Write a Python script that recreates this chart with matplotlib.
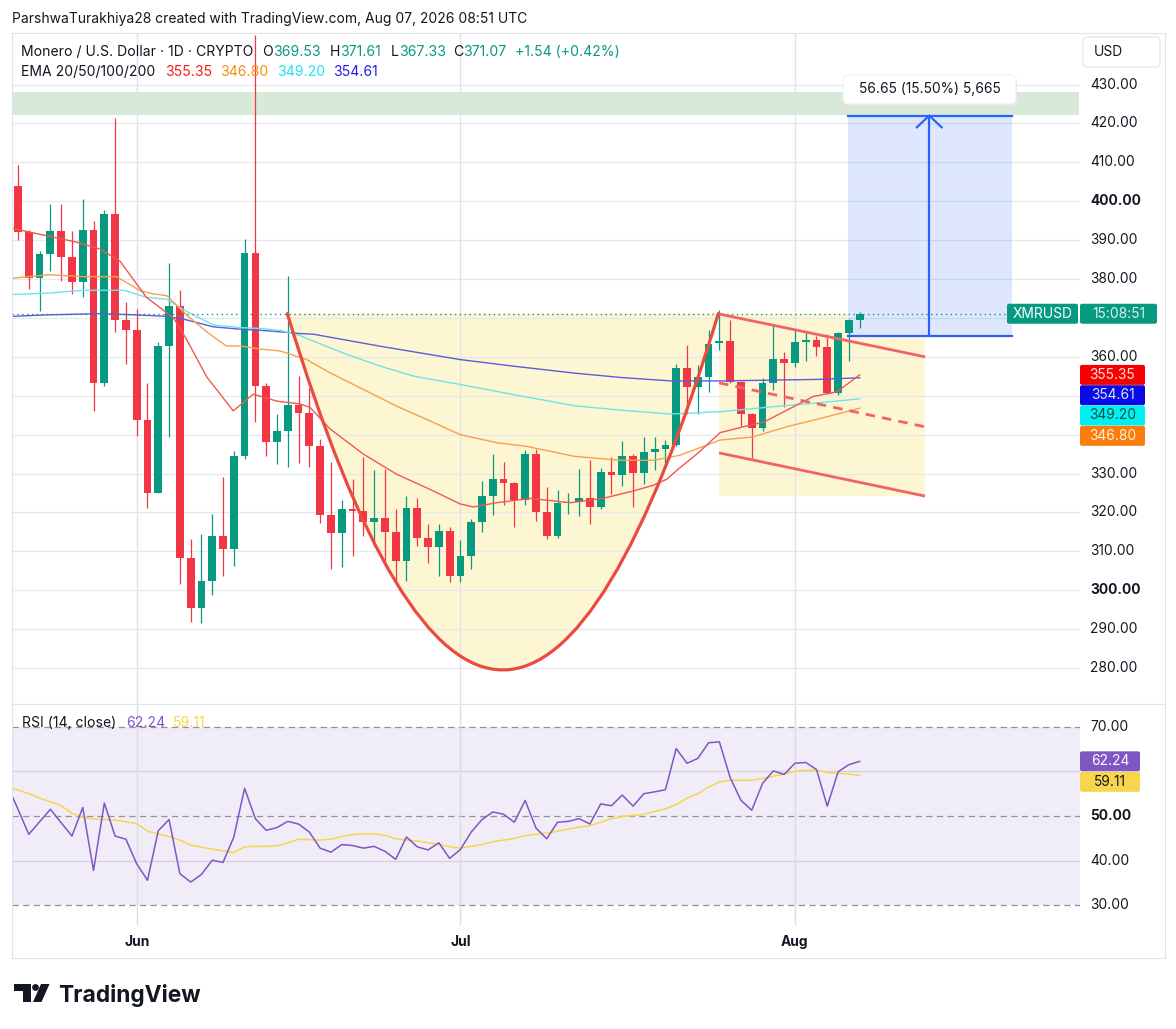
import matplotlib
matplotlib.use("Agg")
import matplotlib.pyplot as plt
import matplotlib.transforms as mtrans
from matplotlib.patches import Rectangle, FancyBboxPatch, PathPatch, Polygon, Circle
from matplotlib.path import Path
from matplotlib.lines import Line2D

plt.rcParams['font.family'] = ['Inter', 'DejaVu Sans']

# ---------------- data ----------------
# daily candles, index 0 = May 21
opens = [403.9, 392.2, 380.2, 386.4, 392.4, 385.6, 379.3, 392.6, 353.2, 396.6,
         369.5, 367.0, 343.7, 325.1, 362.8, 373.1, 308.2, 295.5, 302.4, 314.0,
         310.6, 334.4, 386.8, 352.4, 338.0, 340.8, 347.5, 345.6, 337.2, 319.3,
         314.6, 320.9, 320.3, 317.5, 318.6, 315.0, 307.5, 321.1, 313.4, 311.1,
         315.2, 303.6, 308.9, 317.6, 324.2, 328.5, 327.6, 323.3, 335.1, 320.2,
         313.9, 322.3, 322.8, 323.8, 321.4, 330.4, 329.6, 334.6, 330.2, 335.6,
         336.3, 337.3, 357.0, 352.3, 354.7, 363.6, 364.1, 353.6, 345.4, 341.6,
         353.2, 359.4, 358.3, 363.7, 364.3, 362.4, 350.6, 366.1, 369.53]
highs = [409.2, 392.6, 387.1, 399.3, 399.3, 392.4, 400.6, 394.8, 397.7, 421.3,
         374.2, 372.4, 353.2, 363.7, 384.2, 377.2, 313.1, 314.4, 319.5, 329.2,
         335.9, 390.2, 442.7, 353.2, 345.2, 380.8, 355.0, 352.0, 338.9, 332.9,
         323.3, 328.6, 334.2, 330.9, 331.2, 320.8, 324.2, 323.8, 317.1, 317.1,
         316.2, 313.0, 318.4, 328.0, 335.1, 332.9, 327.8, 336.0, 336.3, 326.6,
         325.7, 325.0, 331.1, 333.6, 331.5, 334.3, 338.3, 334.9, 339.4, 339.4,
         338.7, 358.1, 363.0, 357.9, 367.0, 372.0, 369.5, 353.8, 345.6, 354.5,
         367.8, 361.2, 367.1, 366.4, 365.4, 365.8, 366.5, 369.7, 371.61]
lows = [390.0, 377.5, 371.9, 382.0, 379.5, 376.2, 375.5, 346.0, 352.4, 366.4,
        358.1, 339.7, 321.1, 325.1, 339.3, 301.7, 291.9, 291.7, 298.8, 303.7,
        306.1, 333.7, 343.3, 334.6, 332.4, 331.7, 332.7, 331.7, 317.3, 305.5,
        306.0, 308.8, 313.9, 311.3, 307.2, 301.9, 302.3, 311.3, 307.0, 303.6,
        302.1, 302.1, 305.5, 314.9, 319.3, 321.8, 316.3, 321.9, 317.8, 313.2,
        313.5, 319.5, 319.0, 317.0, 321.0, 324.7, 326.8, 321.4, 327.4, 330.9,
        331.9, 337.0, 345.4, 345.4, 351.0, 361.8, 353.3, 342.1, 334.0, 340.8,
        351.5, 347.2, 357.5, 358.8, 360.1, 350.4, 350.2, 358.9, 367.33]
closes = [392.2, 380.2, 386.4, 392.4, 385.6, 379.3, 392.6, 353.2, 396.6, 369.5,
          367.0, 343.7, 325.1, 362.8, 373.1, 308.2, 295.5, 302.4, 314.0, 310.6,
          334.4, 386.8, 352.4, 338.0, 340.8, 347.5, 345.6, 337.2, 319.3, 314.6,
          320.9, 320.3, 317.5, 318.6, 315.0, 307.5, 321.1, 313.4, 311.1, 315.2,
          303.6, 308.9, 317.6, 324.2, 328.5, 327.6, 323.3, 335.1, 320.2, 313.9,
          322.3, 322.8, 323.8, 321.4, 330.4, 329.6, 334.6, 330.2, 335.6, 336.3,
          337.3, 357.0, 352.3, 354.7, 363.4, 364.1, 353.6, 345.4, 341.6, 353.2,
          359.4, 358.3, 363.7, 364.3, 362.4, 350.6, 366.1, 369.4, 371.07]

month_pos = [11, 41, 72]
month_labels = ['Jun', 'Jul', 'Aug']

ema20_x = [-0.6, 2.0, 5.4, 7.6, 9.45, 11.9, 14.4, 15.6, 17.5, 19.95, 21.8, 24.0, 26.1,
           27.06, 28.9, 32.0, 35.1, 38.2, 40.96, 42.2, 44.4, 47.45, 51.2, 54.2, 57.0,
           58.9, 60.1, 61.35, 63.0, 65.06, 67.2, 69.1, 71.2, 73.7, 75.9, 78.0]
ema20_v = [393.1, 391.5, 389.5, 387.7, 384.6, 375.3, 370.0, 364.6, 354.8, 346.1, 350.4,
           348.6, 347.9, 347.0, 341.5, 335.0, 329.8, 325.9, 322.2, 321.4, 322.5, 323.6,
           322.5, 323.6, 325.5, 327.0, 328.5, 331.5, 335.2, 340.5, 342.0, 343.2, 346.2,
           349.8, 351.0, 355.35]
ema50_x = [-0.6, 2.97, 6.05, 9.15, 11.3, 12.5, 13.8, 15.6, 17.5, 19.3, 20.6, 22.4, 24.3,
           26.75, 28.9, 32.0, 35.1, 38.2, 40.96, 44.4, 47.1, 51.6, 55.8, 58.9, 61.35,
           65.06, 68.1, 71.2, 74.3, 78.0]
ema50_v = [380.2, 381.1, 380.6, 380.6, 377.0, 376.2, 375.7, 370.8, 366.4, 362.8, 362.8,
           362.0, 361.5, 359.3, 355.9, 351.6, 347.3, 343.5, 340.0, 337.9, 337.0, 334.4,
           333.4, 333.4, 334.7, 338.6, 339.4, 342.0, 344.1, 346.8]
ema100_x = [-0.6, 2.97, 6.05, 9.8, 11.9, 13.8, 15.6, 18.1, 20.6, 22.4, 24.3, 26.1, 27.4,
            30.5, 33.6, 36.7, 40.96, 45.9, 51.6, 55.8, 60.5, 65.1, 69.7, 74.3, 78.0]
ema100_v = [376.0, 376.4, 377.1, 377.1, 375.3, 374.8, 371.7, 368.2, 367.5, 367.3, 366.8,
            365.5, 364.0, 360.6, 357.6, 355.0, 352.9, 350.3, 347.4, 346.3, 345.3, 345.9,
            347.1, 348.2, 349.2]
ema200_x = [-0.6, 2.97, 7.6, 10.7, 13.8, 15.6, 18.1, 20.6, 23.05, 26.1, 27.4, 33.6,
            40.96, 45.9, 51.6, 55.8, 60.5, 65.1, 69.7, 74.3, 78.0]
ema200_v = [370.4, 370.8, 371.1, 370.8, 370.4, 369.5, 367.7, 367.1, 366.7, 366.0, 365.8,
            362.7, 359.3, 357.6, 355.8, 354.7, 353.8, 353.8, 354.0, 354.2, 354.61]

rsi_x = list(range(-1, 79))
rsi = [57.0, 51.5, 45.9, 48.7, 51.5, 48.5, 45.5, 51.9, 37.8, 52.9, 45.5,
       44.8, 39.3, 35.6, 46.7, 49.2, 37.1, 35.2, 36.9, 40.1, 39.6,
       45.3, 56.2, 49.4, 46.8, 47.4, 48.8, 48.2, 46.4, 42.8, 41.9,
       43.6, 43.4, 42.8, 43.2, 42.1, 40.3, 45.3, 43.1, 42.4, 44.0,
       40.5, 42.5, 46.4, 49.2, 50.9, 50.4, 48.6, 53.5, 47.3, 44.9,
       48.6, 48.8, 49.4, 48.2, 52.7, 52.3, 54.7, 52.2, 55.0, 55.4,
       55.9, 65.1, 61.8, 62.9, 66.4, 66.6, 58.6, 53.5, 51.3, 57.3,
       60.1, 59.3, 61.8, 62.0, 60.4, 52.2, 59.9, 61.5, 62.24]
rsi_ma = [56.6, 55.8, 55.0, 54.0, 53.2, 52.3, 50.6, 49.7, 49.3, 49.2, 49.1,
          48.7, 48.3, 46.6, 46.0, 45.4, 44.6, 43.5, 43.0, 42.6, 42.2,
          41.8, 43.1, 43.2, 43.2, 43.3, 44.0, 44.8, 44.7, 44.6, 44.8,
          45.4, 45.8, 46.0, 46.0, 45.7, 44.9, 44.6, 44.4, 44.0, 43.7,
          43.1, 42.8, 43.2, 43.6, 44.2, 44.6, 45.0, 45.6, 45.9, 46.2,
          46.6, 47.1, 47.5, 47.8, 48.6, 49.4, 49.9, 50.1, 50.4, 51.0,
          51.6, 52.6, 54.0, 55.0, 56.5, 57.6, 58.0, 58.0, 58.0, 58.4,
          58.9, 59.4, 60.0, 60.3, 60.3, 59.7, 59.6, 59.4, 59.11]

price_ticks = [430, 420, 410, 400, 390, 380, 370, 360, 350, 340, 330, 320, 310, 300, 290, 280]
price_hidden = [370, 350, 340]
rsi_ticks = [70, 60, 50, 40, 30]

# drawings
zone_band = [422.2, 428.0]
cup_x = [24.96, 64.9]
cup_top, cup_bottom = 371.1, 279.5
flag_x = [64.97, 84.06]
flag_upper = [371.0, 360.0]
flag_mid = [353.3, 342.0]
flag_lower = [335.3, 324.2]
meas_x = [76.9, 92.1]
meas_arrow_x = 84.45
meas_p = [365.35, 422.0]
last_price = 371.07
ema_last = [355.35, 354.61, 349.20, 346.80]
rsi_last = [62.24, 59.11]

# ---------------- figure ----------------
W, H = 1176, 1029
fig = plt.figure(figsize=(W / 100, H / 100), dpi=100)
fig.patch.set_facecolor('white')
R = fig.canvas.get_renderer()
pix = mtrans.Affine2D().scale(1.0 / W, -1.0 / H).translate(0, 1) + fig.transFigure

UP, DN = '#089981', '#f23645'
TXT = '#131722'
GRID = '#e6e8ed'
YEL = '#fdf6d2'


def frect(x0, y0, x1, y1):
    return [x0 / W, 1 - y1 / H, (x1 - x0) / W, (y1 - y0) / H]


PL, PR = 12, 1080
axp = fig.add_axes(frect(PL, 33, PR, 704))
axr = fig.add_axes(frect(PL, 704, PR, 925))
XL = (-0.556, 98.42)
for a in (axp, axr):
    a.set_xlim(*XL)
    a.axis('off')
axp.set_ylim(270.75, 443.24)
axr.set_ylim(25.59, 75.08)


def width_px(s, size, weight='normal'):
    t = fig.text(0, 0, s, fontsize=size, fontweight=weight)
    w = t.get_window_extent(R).width
    t.remove()
    return w


def fit_size(s, target, weight='normal'):
    return 10.0 * target / width_px(s, 10, weight)


def tpx(x, y, s, size, color=TXT, weight='normal', ha='left', va='center', z=12, **kw):
    return fig.text(x / W, 1 - y / H, s, fontsize=size, color=color, fontweight=weight,
                    ha=ha, va=va, zorder=z, **kw)


def box_px(x0, y0, x1, y1, fc, ec='none', rad=2.0, lw=0.0, z=10):
    p = FancyBboxPatch((x0, y0), x1 - x0, y1 - y0,
                       boxstyle='round,pad=0,rounding_size=%g' % rad,
                       transform=pix, fc=fc, ec=ec, lw=lw, zorder=z)
    fig.add_artist(p)
    return p


def line_px(x0, y0, x1, y1, color='#e0e3eb', lw=0.8):
    fig.add_artist(Line2D([x0, x1], [y0, y1], transform=pix, color=color, lw=lw, zorder=9))


def ypix(ax, v):
    return H - ax.transData.transform((0, v))[1]


def ax_x(px):
    return (px - PL) / (PR - PL)


# ---------------- price pane ----------------
for p in price_ticks:
    axp.axhline(p, color=GRID, lw=0.9, zorder=1.1)
for m in month_pos:
    axp.axvline(m, color='#e0e3eb', lw=1.0, zorder=1.1)
    axr.axvline(m, color='#dcdbe4', lw=1.0, zorder=1.1)

axp.fill_between([XL[0], 98.3], zone_band[0], zone_band[1], color='#d9e9d9', lw=0, zorder=1)

# cup
ctrl = 2 * cup_bottom - cup_top
cmid = (cup_x[0] + cup_x[1]) / 2
verts = [(cup_x[0], cup_top), (cmid, ctrl), (cup_x[1], cup_top)]
axp.add_patch(PathPatch(Path(verts + [(cup_x[0], cup_top)],
                             [Path.MOVETO, Path.CURVE3, Path.CURVE3, Path.CLOSEPOLY]),
                        fc=YEL, ec='none', zorder=1))
axp.add_patch(PathPatch(Path(verts, [Path.MOVETO, Path.CURVE3, Path.CURVE3]),
                        fc='none', ec='#ea4a40', lw=2.3, zorder=6, capstyle='round'))

# flag box (the part under the measure box is left to the measure fill)
axp.add_patch(Polygon([(flag_x[0], flag_lower[1]), (flag_x[1], flag_lower[1]),
                       (flag_x[1], meas_p[0]), (meas_x[0], meas_p[0]),
                       (meas_x[0], flag_upper[0]), (flag_x[0], flag_upper[0])],
                      closed=True, fc=YEL, ec='none', zorder=1))
axp.plot(flag_x, flag_upper, color='#f06464', lw=2.0, zorder=6, solid_capstyle='butt')
axp.plot(flag_x, flag_lower, color='#f06464', lw=2.0, zorder=6, solid_capstyle='butt')
axp.plot(flag_x, flag_mid, color='#f06464', lw=2.0, zorder=6, dashes=(3.4, 2.6))

# measure tool
axp.add_patch(Rectangle((meas_x[0], meas_p[0]), meas_x[1] - meas_x[0], meas_p[1] - meas_p[0],
                        fc=(41 / 255, 98 / 255, 1.0, 0.15), ec='none', zorder=1.5))
axp.plot(meas_x, [meas_p[1]] * 2, color='#2962ff', lw=1.6, zorder=6)
axp.plot(meas_x, [meas_p[0]] * 2, color='#2962ff', lw=1.6, zorder=6)
axp.plot([meas_arrow_x] * 2, meas_p, color='#2962ff', lw=1.6, zorder=6)
axp.plot([meas_arrow_x - 1.15, meas_arrow_x, meas_arrow_x + 1.15],
         [meas_p[1] - 3.0, meas_p[1], meas_p[1] - 3.0], color='#2962ff', lw=1.6, zorder=6)

# candles
for i, (o, h, l, c) in enumerate(zip(opens, highs, lows, closes)):
    col = UP if c >= o else DN
    axp.plot([i, i], [l, h], color=col, lw=0.9, zorder=3, solid_capstyle='butt')
    axp.add_patch(Rectangle((i - 0.36, min(o, c)), 0.72, max(abs(c - o), 0.3),
                            fc=col, ec='none', lw=0, zorder=3.5))

# EMAs
axp.plot(ema200_x, ema200_v, color='#5b5bdc', lw=1.0, zorder=4.5)
axp.plot(ema100_x, ema100_v, color='#6fe4e8', lw=1.0, zorder=4.5)
axp.plot(ema50_x, ema50_v, color='#f7a04a', lw=1.0, zorder=4.5)
axp.plot(ema20_x, ema20_v, color='#f1584e', lw=1.0, zorder=4.5)

axp.axhline(last_price, xmin=0, xmax=ax_x(1007), color=UP, lw=1.0, ls=(0, (1, 2.5)), zorder=5)

# ---------------- RSI pane ----------------
axr.axhspan(30, 70, color=(126 / 255, 87 / 255, 194 / 255, 0.1), lw=0, zorder=0)
for v in (60, 40):
    axr.axhline(v, color='#d3d0dc', lw=0.9, zorder=1)
for v in (70, 50, 30):
    axr.axhline(v, color='#8f929b', lw=0.9, ls=(0, (5, 3.5)), zorder=1)
axr.plot(rsi_x, rsi_ma, color='#f7d64c', lw=1.1, zorder=3)
axr.plot(rsi_x, rsi, color='#7e57c2', lw=1.1, zorder=4)

# ---------------- frame ----------------
line_px(12, 32.5, 1165, 32.5)
line_px(12, 32.5, 12, 958)
line_px(1165, 32.5, 1165, 958)
line_px(12, 958, 1165, 958)
line_px(12, 704, 1165, 704)

# ---------------- texts ----------------
hdr = "ParshwaTurakhiya28 created with TradingView.com, Aug 07, 2026 08:51 UTC"
tpx(12, 19, hdr, fit_size(hdr, 516))

leg = 'Monero / U.S. Dollar · 1D · CRYPTO'
ls_ = fit_size(leg, 232)
tpx(21.3, 51.5, leg, ls_)
for lab, val, x in (('O', '369.53', 262.5), ('H', '371.61', 330), ('L', '367.33', 391),
                    ('C', '371.07', 453)):
    t = tpx(x, 51.5, lab, ls_)
    wl = t.get_window_extent(R).width
    tpx(x + wl, 51.5, val, ls_, color=UP)
tpx(515, 51.5, '+1.54 (+0.42%)', ls_, color=UP)

tpx(21.3, 71.5, 'EMA 20/50/100/200', ls_)
for val, x, col in (('355.35', 165, '#ff1a1a'), ('346.80', 220, '#f98c12'),
                    ('349.20', 277, '#22e2ee'), ('354.61', 333, '#1f1fe8')):
    tpx(x, 71.5, val, ls_, color=col)

tpx(21.7, 723, 'RSI (14, close)', ls_)
tpx(126, 723, '62.24', ls_, color='#7e57c2')
tpx(173, 723, '59.11', ls_, color='#f7d64c')

# right price scale
axs = fit_size('430.00', 48)
yb = mtrans.blended_transform_factory(axp.transAxes, axp.transData)
for p in price_ticks:
    if p in price_hidden:
        continue
    axp.text(ax_x(1090), p, '%.2f' % p, transform=yb, fontsize=axs, color=TXT,
             fontweight='bold' if p % 100 == 0 else 'normal', va='center', ha='left',
             clip_on=False)
yr = mtrans.blended_transform_factory(axr.transAxes, axr.transData)
for v in rsi_ticks:
    if v == 60:
        continue
    axr.text(ax_x(1090), v, '%.2f' % v, transform=yr, fontsize=axs, color=TXT,
             fontweight='bold' if v == 50 else 'normal', va='center', ha='left', clip_on=False)

# USD box
box_px(1083, 37, 1160, 67, 'white', ec='#e0e3eb', rad=4, lw=0.8)
tpx(1094, 52, 'USD', axs)

# last-price label
yl = ypix(axp, last_price)
box_px(1007, yl - 10, 1078, yl + 10, UP, rad=2)
box_px(1080, yl - 10, 1157, yl + 10, UP, rad=2)
tpx(1042.5, yl, 'XMRUSD', axs, color='white', ha='center')
tpx(1118.5, yl, '15:08:51', axs, color='#d8f0ea', ha='center')

# EMA value labels (stacked)
y0 = ypix(axp, ema_last[0])
for k, (val, fc, tc) in enumerate(zip(ema_last,
                                      ['#f70000', '#0a0ae6', '#00f0f0', '#fb7d0a'],
                                      ['#ffe0e0', '#e0e0ff', '#134d4d', '#fff0e0'])):
    yc = y0 + 20.3 * k
    box_px(1080, yc - 10, 1145, yc + 10, fc, rad=2)
    tpx(1112.5, yc, '%.2f' % val, axs, color=tc, ha='center')

# RSI value labels
y0 = ypix(axr, rsi_last[0])
for k, (val, fc, tc) in enumerate(zip(rsi_last, ['#7e57c2', '#f7d64c'], ['white', '#131722'])):
    yc = y0 + 20.5 * k
    box_px(1080, yc - 10, 1140, yc + 10, fc, rad=2)
    tpx(1110, yc, '%.2f' % val, axs, color=tc, ha='center')

# measure label
box_px(844, 76.5, 1017, 105.5, '#e6e8ee', rad=5)
box_px(843, 75, 1016, 104, 'white', ec='#eceef2', rad=5, lw=0.6)
tpx(929.5, 89.5, '%.2f (15.50%%) 5,665' % (meas_p[1] - meas_p[0]), axs, ha='center')

# month labels
xb = mtrans.blended_transform_factory(axr.transData, pix)
for m, lab in zip(month_pos, month_labels):
    fig.text(m, 942, lab, transform=xb, fontsize=axs, fontweight='bold', color=TXT,
             ha='center', va='center')

# TradingView logo
fig.add_artist(Polygon([(14, 984), (31, 984), (31, 1002), (23, 1002), (23, 991), (14, 991)],
                       closed=True, transform=pix, fc='#131722', ec='none'))
fig.add_artist(Circle((35.5, 987.5), 3.4, transform=pix, fc='#131722', ec='none'))
fig.add_artist(Polygon([(41, 984), (49.5, 984), (41.5, 1002), (33, 1002)],
                       closed=True, transform=pix, fc='#131722', ec='none'))
tvs = fit_size('TradingView', 143, 'bold')
tpx(58, 1002, 'TradingView', tvs, weight='bold', va='baseline')

fig.savefig('out.png', dpi=100, facecolor='white')
